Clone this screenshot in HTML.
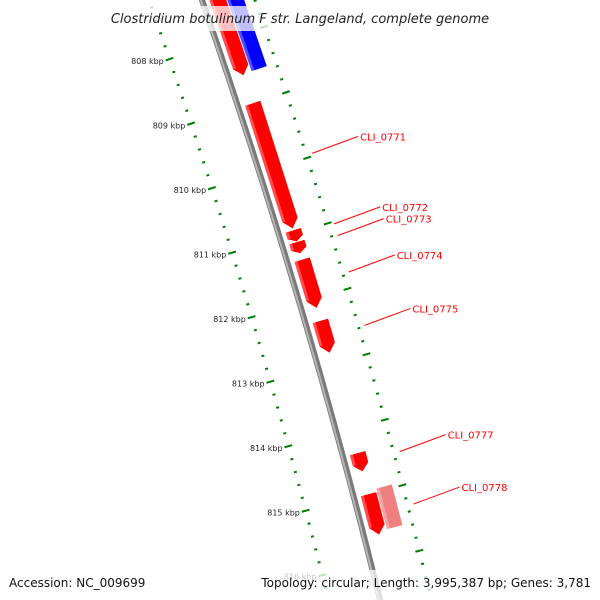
<!DOCTYPE html>
<html><head><meta charset="utf-8"><style>
html,body{margin:0;padding:0;background:#fff;overflow:hidden;width:600px;height:600px}
svg{display:block;font-family:"DejaVu Sans","Liberation Sans",sans-serif;overflow:hidden}
</style></head><body>
<svg id="map" width="600" height="600" viewBox="0 0 600 600" xmlns="http://www.w3.org/2000/svg">
<g id="ticks"></g>
<path id="bb1" fill="none" stroke="#7a7a7a" stroke-width="6"/>
<path id="bb2" fill="none" stroke="#b5b5b5" stroke-width="2"/>
<g id="genes"></g>
<g id="labels"></g>
<rect x="0" y="6" width="600" height="25" fill="#fff" opacity="0.75"/>
<text x="300" y="23" text-anchor="middle" font-size="13" font-style="italic" fill="#222">Clostridium botulinum F str. Langeland, complete genome</text>
<rect x="0" y="570" width="600" height="30" fill="#fff" opacity="0.75"/>
<text x="9" y="587" font-size="12" fill="#111">Accession: NC_009699</text>
<text x="591" y="587" text-anchor="end" font-size="12" fill="#111">Topology: circular; Length: 3,995,387 bp; Genes: 3,781</text>
</svg>
<script>
// gene data (kbp)
const geneNames=["","","CLI_0771","CLI_0772","CLI_0773","CLI_0774","CLI_0775","CLI_0777","CLI_0778",""];
const geneStarts=[807.2,807.2,809.0,810.95,811.13,811.4,812.34,814.37,815.0,814.95];
const geneEnds=[808.57,808.55,810.92,811.12,811.3,812.14,812.83,814.65,815.62,815.57];
const geneSlots=[0,1,0,0,0,0,0,0,0,1];
const geneColors=["#ff0000","#0000ff","#ff0000","#ff0000","#ff0000","#ff0000","#ff0000","#ff0000","#ff0000","#f08080"];
const geneArrow=[1,0,1,1,1,1,1,1,1,0];
const tickLabels=[808,809,810,811,812,813,814,815,816];

const NS="http://www.w3.org/2000/svg";
function bx(y){return 202+0.3474*y-8.46e-5*y*y;}
function dbx(y){return 0.3474-2*8.46e-5*y;}
function sy(s){return 43+(s-808)*65;}
function pt(s,off){const y=sy(s),d=dbx(y),L=Math.hypot(d,1);const nx=1/L,ny=-d/L;return [bx(y)+nx*off,y+ny*off];}
function mk(tag,attrs,parent){const e=document.createElementNS(NS,tag);for(const k in attrs)e.setAttribute(k,attrs[k]);parent.appendChild(e);return e;}

let d="",d2="";
for(let y=-10;y<=610;y+=5){d+=(y===-10?"M":"L")+bx(y).toFixed(1)+","+y;d2+=(y===-10?"M":"L")+(bx(y)-1.2).toFixed(1)+","+y;}
document.getElementById('bb1').setAttribute('d',d);
document.getElementById('bb2').setAttribute('d',d2);

const tg=document.getElementById('ticks');
for(let i=0;i<=50;i++){
  const s=807.0+i*0.2; const major=Math.abs(s-Math.round(s))<1e-6;
  const len=major?8:3;
  [-50,50].forEach(o=>{
    const a=pt(s,o-len/2),b=pt(s,o+len/2);
    const ln=mk('line',{x1:a[0],y1:a[1],x2:b[0],y2:b[1],stroke:'#008000','stroke-width':2},tg);
    
    
  });
}
tickLabels.forEach(v=>{
  const p=pt(v,-56);
  const t=mk('text',{x:p[0],y:p[1]+3,'text-anchor':'end','font-size':8,fill:'#222'},tg);
  t.textContent=v+" kbp";
  
  
});

const gg=document.getElementById('genes'),lg=document.getElementById('labels');
for(let i=0;i<geneStarts.length;i++){
  const o1=geneSlots[i]?24:7,o2=geneSlots[i]?40:23;
  const s1=geneStarts[i],s2=geneEnds[i];
  const h=geneArrow[i]?Math.min(0.13,(s2-s1)*0.4):0;
  const pts=[pt(s1,o1),pt(s2-h,o1)];
  if(h){pts.push(pt(s2,(o1+o2)/2));}
  pts.push(pt(s2-h,o2),pt(s1,o2));
  const g=mk('polygon',{points:pts.map(p=>p.join(',')).join(' '),fill:geneColors[i]},gg);
  
  
  const hl=[pt(s1,o1),pt(s2-h,o1),pt(s2-h,o1+3),pt(s1,o1+3)];
  const hp=mk('polygon',{points:hl.map(p=>p.join(',')).join(' '),fill:'#fff',opacity:0.3},gg);
  
  
  if(geneNames[i]){
    const m=(s1+s2)/2,a=pt(m,56),b=[a[0]+46,a[1]-17];
    const l=mk('line',{x1:a[0],y1:a[1],x2:b[0],y2:b[1],stroke:'#ff0000','stroke-width':1},lg);
    
    
    const t=mk('text',{x:b[0]+2,y:b[1]+4,'font-size':10,fill:'#ff0000'},lg);
    t.textContent=geneNames[i];
    
    
  }
}
</script>
</body></html>
